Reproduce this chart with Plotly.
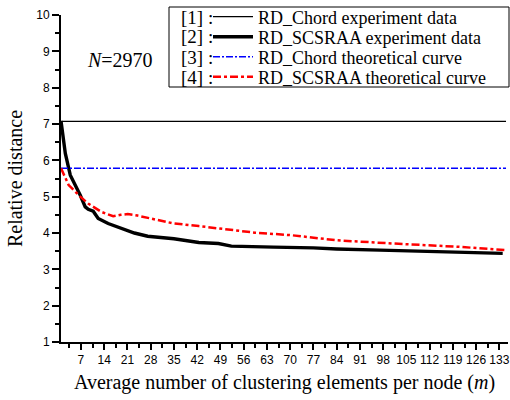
import plotly.graph_objects as go

# ---- data ----
m_line = [1, 135]
rd_chord_exp = [7.07, 7.07]
rd_chord_th = [5.78, 5.78]

m_exp = [1, 2.3, 3.8, 5.3, 6.8, 8.3, 9.2, 10.7, 12.2, 15.2, 19.2, 23.1, 27.1, 31,
         35, 42.5, 48.4, 52.3, 58, 65, 77, 84, 97, 109, 120, 134]
rd_scsraa_exp = [7.08, 6.19, 5.59, 5.32, 5.04, 4.72, 4.65, 4.6, 4.4, 4.26, 4.12, 4.0,
                 3.91, 3.88, 3.84, 3.74, 3.71, 3.64, 3.62, 3.61, 3.59, 3.56, 3.53,
                 3.5, 3.48, 3.44]

m_th = [1, 3.3, 6.8, 9.2, 13.2, 16.7, 19, 21.1, 24, 28.1, 34.5, 42.5, 50.4, 59.4,
        70.3, 84, 101, 120.9, 134.5]
rd_scsraa_th = [5.78, 5.32, 5.0, 4.81, 4.58, 4.46, 4.5, 4.52, 4.48, 4.4, 4.27, 4.19,
                4.11, 4.01, 3.94, 3.80, 3.71, 3.62, 3.53]

x_ticks = list(range(7, 134, 7))
legend_names = ["RD_Chord experiment data", "RD_SCSRAA experiment data",
                "RD_Chord theoretical curve", "RD_SCSRAA theoretical curve"]
legend_tags = ["[1] :", "[2] :", "[3] :", "[4] :"]

SERIF = "Liberation Serif"
SANS = "Liberation Sans"

W, H = 510, 400
L, R, T, B = 61, 2, 15, 58
pw, ph = W - L - R, H - T - B


def px(xp):
    return (xp - L) / pw


def py(yp):
    return (H - B - yp) / ph


legend_ids = ["legend", "legend2", "legend3", "legend4"]
row_y = [17, 37, 57, 77]

fig = go.Figure()
fig.add_trace(go.Scatter(x=m_line, y=rd_chord_exp, mode="lines", name=legend_names[0],
                         legend=legend_ids[0],
                         line=dict(color="black", width=1.2)))
fig.add_trace(go.Scatter(x=m_exp, y=rd_scsraa_exp, mode="lines", name=legend_names[1],
                         legend=legend_ids[1],
                         line=dict(color="black", width=3.4)))
fig.add_trace(go.Scatter(x=m_line, y=rd_chord_th, mode="lines", name=legend_names[2],
                         legend=legend_ids[2],
                         line=dict(color="blue", width=1.5, dash="7px,2px,2px,2px")))
fig.add_trace(go.Scatter(x=m_th, y=rd_scsraa_th, mode="lines", name=legend_names[3],
                         legend=legend_ids[3],
                         line=dict(color="red", width=2.5, dash="8px,3px,3px,3px")))

annotations = []
for tag, yy in zip(legend_tags, row_y):
    annotations.append(dict(x=px(179), y=py(yy), xref="paper", yref="paper",
                            text=tag, showarrow=False, xanchor="left", yanchor="middle",
                            font=dict(family=SERIF, size=19, color="black")))
annotations.append(dict(x=px(85), y=py(60), xref="paper", yref="paper",
                        text="<i>N</i>=2970", showarrow=False, xanchor="left",
                        yanchor="middle", font=dict(family=SERIF, size=20, color="black")))

legend_layout = {}
for lid, yy in zip(legend_ids, row_y):
    legend_layout[lid] = dict(x=px(208), y=py(yy), xanchor="left", yanchor="middle",
                              bgcolor="rgba(0,0,0,0)", borderwidth=0,
                              font=dict(family=SERIF, size=18, color="black"),
                              itemwidth=40)

fig.update_layout(
    width=W, height=H,
    margin=dict(l=L, r=R, t=T, b=B, autoexpand=False),
    paper_bgcolor="white", plot_bgcolor="white",
    showlegend=True,
    shapes=[dict(type="rect", xref="paper", yref="paper",
                 x0=px(169), x1=px(509), y0=py(87), y1=py(7),
                 line=dict(color="black", width=1), fillcolor="rgba(0,0,0,0)")],
    annotations=annotations,
    xaxis=dict(range=[1, 135.6], tickmode="array", tickvals=x_ticks,
               ticks="outside", ticklen=6, tickwidth=1.5, tickcolor="black",
               showline=True, linecolor="black", linewidth=2, showgrid=False,
               zeroline=False, ticklabeloverflow="allow",
               tickfont=dict(family=SANS, size=12, color="black"),
               minor=dict(tickmode="linear", tick0=0, dtick=3.5, ticks="outside",
                          ticklen=4, tickwidth=1.5, tickcolor="black", showgrid=False),
               title=dict(text="Average number of clustering elements per node (<i>m</i>)",
                          font=dict(family=SERIF, size=20, color="black"), standoff=9)),
    yaxis=dict(range=[1, 10], dtick=1, tick0=0,
               ticks="outside", ticklen=7, tickwidth=1.5, tickcolor="black",
               showline=True, linecolor="black", linewidth=2, showgrid=False,
               zeroline=False,
               tickfont=dict(family=SANS, size=12, color="black"),
               minor=dict(dtick=0.5, ticks="outside", ticklen=4, tickwidth=1.5,
                          tickcolor="black", showgrid=False),
               title=dict(text="Relative distance",
                          font=dict(family=SERIF, size=20, color="black"), standoff=8)),
    **legend_layout,
)

fig.write_html("out.html")
